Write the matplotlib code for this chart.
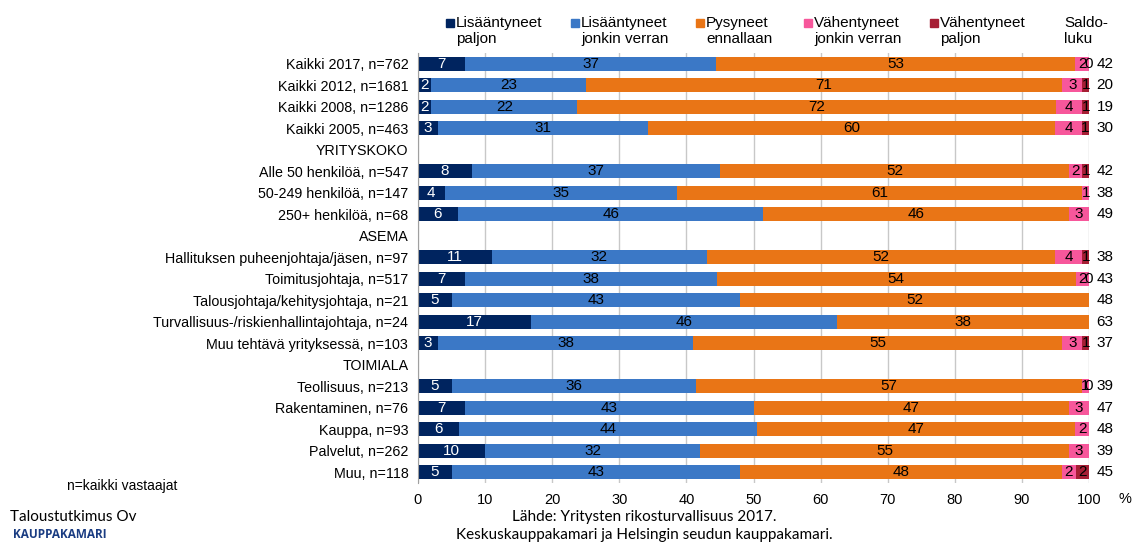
import numpy as np
import matplotlib
matplotlib.use("Agg")
import matplotlib.pyplot as plt

# rivit ylhäältä alas, None = otsikkorivi / ei arvoa
categories = ["Kaikki 2017, n=762", "Kaikki 2012, n=1681", "Kaikki 2008, n=1286",
              "Kaikki 2005, n=463", "YRITYSKOKO", "Alle 50 henkilöä, n=547",
              "50-249 henkilöä, n=147", "250+ henkilöä, n=68", "ASEMA",
              "Hallituksen puheenjohtaja/jäsen, n=97", "Toimitusjohtaja, n=517",
              "Talousjohtaja/kehitysjohtaja, n=21",
              "Turvallisuus-/riskienhallintajohtaja, n=24",
              "Muu tehtävä yrityksessä, n=103", "TOIMIALA", "Teollisuus, n=213",
              "Rakentaminen, n=76", "Kauppa, n=93", "Palvelut, n=262", "Muu, n=118"]

lis_paljon = [7, 2, 2, 3, None, 8, 4, 6, None, 11, 7, 5, 17, 3, None, 5, 7, 6, 10, 5]
lis_jonkin = [37, 23, 22, 31, None, 37, 35, 46, None, 32, 38, 43, 46, 38, None, 36, 43, 44, 32, 43]
pysyneet = [53, 71, 72, 60, None, 52, 61, 46, None, 52, 54, 52, 38, 55, None, 57, 47, 47, 55, 48]
vah_jonkin = [2, 3, 4, 4, None, 2, 1, 3, None, 4, 2, None, None, 3, None, 1, 3, 2, 3, 2]
vah_paljon = [0, 1, 1, 1, None, 1, None, None, None, 1, 0, None, None, 1, None, 0, None, None, None, 2]
saldo = [42, 20, 19, 30, None, 42, 38, 49, None, 38, 43, 48, 63, 37, None, 39, 47, 48, 39, 45]

series_names = ["Lisääntyneet\npaljon", "Lisääntyneet\njonkin verran",
                "Pysyneet\nennallaan", "Vähentyneet\njonkin verran",
                "Vähentyneet\npaljon"]
colors = ["#00245f", "#3b78c6", "#e97516", "#f7579b", "#a61e34"]
text_colors = ["white", "black", "black", "black", "black"]

series = [lis_paljon, lis_jonkin, pysyneet, vah_jonkin, vah_paljon]
data = np.array([[np.nan if v is None else v for v in s] for s in series], dtype=float)
# 100 % pinottu: skaalataan rivi summaan 100
tot = np.nansum(data, axis=0)
tot[tot == 0] = 1
widths = np.nan_to_num(data) / tot * 100

fig = plt.figure(figsize=(11.35, 5.43), dpi=100)
ax = fig.add_axes([418/1135, 1-483/543, (1089-418)/1135, 430/543])

y = np.arange(len(categories))
narrow = ["Liberation Sans Narrow", "Liberation Sans"]
left = np.zeros(len(categories))
for i in range(5):
    ax.barh(y, widths[i], left=left, height=0.66, color=colors[i], zorder=3)
    for j in range(len(categories)):
        v = data[i, j]
        if np.isnan(v):
            continue
        ax.text(left[j] + widths[i, j]/2, y[j], "%d" % v, ha="center", va="center",
                color=text_colors[i], fontsize=11, family=narrow, zorder=4)
    left = left + widths[i]

for j in range(len(categories)):
    if saldo[j] is not None:
        ax.text(101.1, y[j], str(saldo[j]), ha="left", va="center",
                fontsize=11, family=narrow, clip_on=False)

ax.set_xlim(0, 100)
ax.set_ylim(len(categories) - 0.5, -0.5)
ax.set_xticks(np.arange(0, 101, 10))
ax.set_yticks(y)
ax.set_yticklabels(categories, fontsize=10.3, family="Liberation Sans")
for lab in ax.get_xticklabels():
    lab.set_family("Liberation Sans")
    lab.set_fontsize(10.5)
ax.tick_params(axis="both", length=0)
ax.tick_params(axis="y", pad=7)
ax.tick_params(axis="x", pad=7)
ax.grid(axis="x", color="#c8c8c8", linewidth=1, zorder=0)
for s in ["top", "right", "bottom"]:
    ax.spines[s].set_visible(False)
ax.spines["left"].set_color("#a0a0a0")
ax.spines["left"].set_zorder(5)

# legenda käsin
leg_x = [446, 571, 696, 804, 930]
for k in range(5):
    fig.patches.append(plt.Rectangle(((leg_x[k]) / 1135, 1 - 27/543), 8/1135, 8/543,
                                     transform=fig.transFigure, color=colors[k]))
    fig.text((leg_x[k] + 10) / 1135, 1 - 31/543, series_names[k], ha="left", va="center",
             fontsize=11, family="Liberation Sans", linespacing=1.1)
fig.text(1064/1135, 1 - 31/543, "Saldo-\nluku", ha="left", va="center",
         fontsize=11, family="Liberation Sans", linespacing=1.1)

fig.text(1125/1135, 1 - 499/543, "%", ha="center", va="center", fontsize=10.5,
         family="Liberation Sans")
fig.text(67/1135, 1 - 486/543, "n=kaikki vastaajat", ha="left", va="center",
         fontsize=10, family="Liberation Sans")
fig.text(10/1135, 1 - 517/543, "Taloustutkimus Ov", ha="left", va="center",
         fontsize=11, family="Lato")
fig.text(13/1135, 1 - 535/543, "KAUPPAKAMARI", ha="left", va="center",
         fontsize=8.5, family="Open Sans", weight="bold", color="#1a3c82")
fig.text(644/1135, 1 - 517/543, "Lähde: Yritysten rikosturvallisuus 2017.", ha="center",
         va="center", fontsize=11, family="Lato")
fig.text(644/1135, 1 - 535/543, "Keskuskauppakamari ja Helsingin seudun kauppakamari.",
         ha="center", va="center", fontsize=11, family="Lato")

fig.savefig("out.png", dpi=100)
